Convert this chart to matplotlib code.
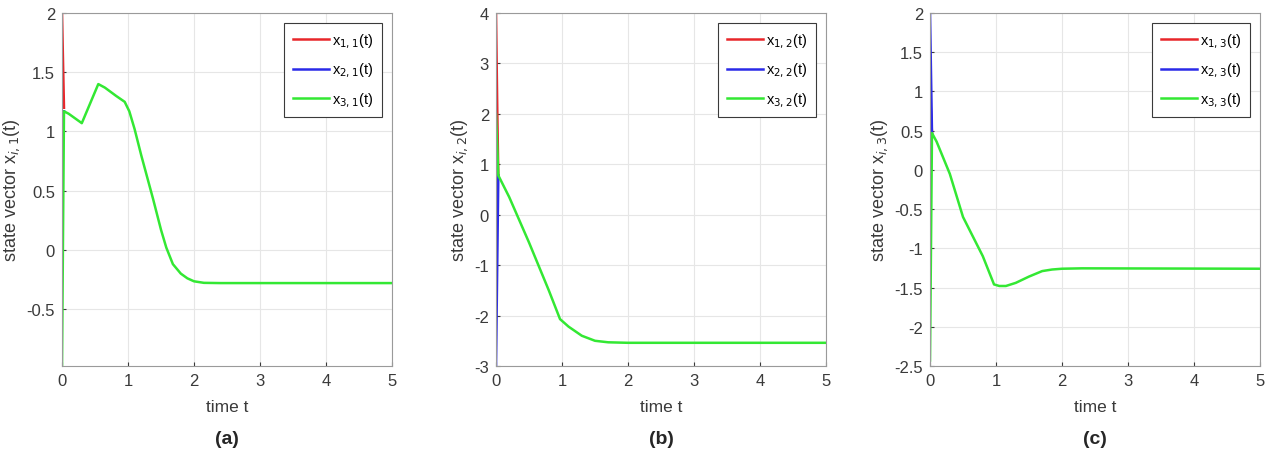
import matplotlib.pyplot as plt
import numpy as np

plt.rcParams['font.family'] = ['Liberation Sans', 'DejaVu Sans']

# panel (a): state x_{i,1}
t_a1 = [0, 0.03]
x_a1 = [2.0, 1.2]
t_a2 = [0, 0.03]
x_a2 = [1.0, 1.17]
t_a3 = [0, 0.03, 0.1, 0.3, 0.55, 0.65, 0.82, 0.95, 1.02, 1.1, 1.2, 1.38, 1.5, 1.58, 1.68, 1.8, 1.9, 2.0, 2.15, 2.4, 5]
x_a3 = [-0.98, 1.17, 1.15, 1.07, 1.40, 1.37, 1.30, 1.25, 1.17, 1.02, 0.80, 0.43, 0.17, 0.02, -0.12, -0.20, -0.24, -0.265, -0.278, -0.28, -0.28]

# panel (b): state x_{i,2}
t_b1 = [0, 0.02, 0.035]
x_b1 = [4.0, 2.0, 0.78]
t_b2 = [0, 0.035]
x_b2 = [-3.0, 0.78]
t_b3 = [0, 0.035, 0.2, 0.5, 0.8, 0.97, 1.1, 1.3, 1.5, 1.7, 2.0, 5]
x_b3 = [2.0, 0.78, 0.35, -0.55, -1.5, -2.07, -2.22, -2.4, -2.5, -2.53, -2.54, -2.54]

# panel (c): state x_{i,3}
t_c1 = [0, 0.03]
x_c1 = [1.0, 0.47]
t_c2 = [0, 0.03]
x_c2 = [2.0, 0.47]
t_c3 = [0, 0.03, 0.1, 0.3, 0.5, 0.8, 0.97, 1.05, 1.15, 1.3, 1.5, 1.7, 1.85, 2.0, 2.3, 5]
x_c3 = [-2.43, 0.47, 0.36, -0.05, -0.6, -1.1, -1.46, -1.48, -1.48, -1.44, -1.36, -1.29, -1.27, -1.26, -1.255, -1.26]

panels = [
    ("a", 1, [(t_a1, x_a1), (t_a2, x_a2), (t_a3, x_a3)], (-0.98, 2), np.arange(-0.5, 2.01, 0.5)),
    ("b", 2, [(t_b1, x_b1), (t_b2, x_b2), (t_b3, x_b3)], (-3, 4), np.arange(-3, 4.1, 1)),
    ("c", 3, [(t_c1, x_c1), (t_c2, x_c2), (t_c3, x_c3)], (-2.5, 2), np.arange(-2.5, 2.01, 0.5)),
]
colors = ["#e8262a", "#2a2ae8", "#33e833"]
lefts = [62, 496, 930]

fig = plt.figure(figsize=(12.78, 4.56), dpi=100)
W, H = 1278, 456

for (tag, j, series, ylim, yticks), left in zip(panels, lefts):
    ax = fig.add_axes([left / W, (H - 367) / H, 330 / W, 353 / H])
    for i, (t, x) in enumerate(series):
        ax.plot(t, x, color=colors[i], lw=1.8, label="x$_{%d,%d}$(t)" % (i + 1, j))
    ax.set_xlim(0, 5)
    ax.set_ylim(*ylim)
    ax.set_yticks(yticks)
    ax.set_yticklabels([("%g" % v) for v in yticks])
    ax.set_xticks(range(6))
    ax.grid(True, color="#e6e6e6", lw=0.8)
    ax.tick_params(direction="in", labelsize=12, colors="#3a3a3a", length=3, pad=5)
    for s in ax.spines.values():
        s.set_color("#9a9a9a")
    ax.set_xlabel("time t", fontsize=12.5, color="#3a3a3a", labelpad=8)
    ax.set_ylabel("state vector x$_{i,%d}$(t)" % j, fontsize=13, color="#3a3a3a", labelpad=3)
    leg = ax.legend(loc="upper right", fontsize=10.5, handlelength=2.5, handletextpad=0.2,
                    fancybox=False, framealpha=1, edgecolor="#3a3a3a", borderaxespad=0.7,
                    labelspacing=0.75, borderpad=0.6)
    leg.get_frame().set_linewidth(0.8)
    fig.text((left + 165) / W, 1 - 440 / H, "(%s)" % tag, ha="center", va="center",
             fontsize=14, fontweight="bold", color="#262626")

fig.savefig("out.png", dpi=100)
